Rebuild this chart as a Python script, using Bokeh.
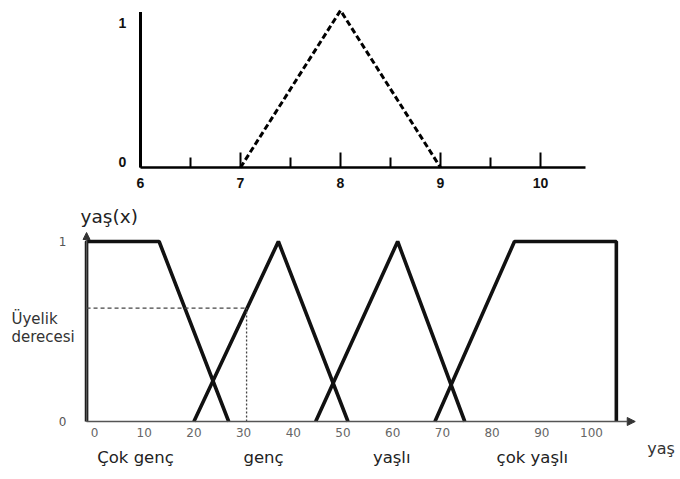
from bokeh.plotting import figure
from bokeh.models import Range1d, Arrow, NormalHead
from bokeh.core.properties import value
from bokeh.embed import file_html
from bokeh.resources import INLINE

# ---------------- data: top chart (triangular fuzzy number "about 8") ----------
tri_x = [7, 8, 9]
tri_y = [0, 1, 0]
top_xticks = [6, 7, 8, 9, 10]
top_xminor = [6.5, 7.5, 8.5, 9.5]
top_yticks = [0, 1]

# ---------------- data: bottom chart (age membership functions) ----------------
age_ticks = [0, 10, 20, 30, 40, 50, 60, 70, 80, 90, 100]
mu_ticks = [0, 1]
cok_genc_x = [-1.6, -1.6, 13, 27]
cok_genc_y = [0, 1, 1, 0]
genc_x = [20, 37, 51]
genc_y = [0, 1, 0]
yasli_x = [44.5, 61, 74.5]
yasli_y = [0, 1, 0]
cok_yasli_x = [68.5, 84.5, 105, 105]
cok_yasli_y = [0, 1, 1, 0]
sample_age = 30.6
sample_mu = 0.63
categories = ["Çok genç", "genç", "yaşlı", "çok yaşlı"]

# ---------------- layout constants (pixels / positions) ------------------------
W, H = 680, 479
# bottom chart scale: x=0 at canvas x 94, 4.97 px per year; mu=0 at canvas y 421, 180 px per unit
BX0, BKX = 94, 4.97
BY0, BKY = 421, 180
# top chart scale: x=6 at canvas x 140, 100 px per unit; 0 at canvas y 167, 157 px per unit
TX0, TKX = 140, 100
TY0, TKY = 167, 157

FONT = "DejaVu Sans"

p = figure(width=W, height=H,
           x_range=Range1d(-BX0 / BKX, (W - BX0) / BKX),
           y_range=Range1d(-(H - BY0) / BKY, BY0 / BKY),
           x_axis_type=None, y_axis_type=None,
           output_backend="svg", toolbar_location=None,
           min_border=0, min_border_left=0, min_border_right=0,
           min_border_top=0, min_border_bottom=0)
p.extra_x_ranges = {"top": Range1d(6 - TX0 / TKX, 6 + (W - TX0) / TKX)}
p.extra_y_ranges = {"top": Range1d(-(H - TY0) / TKY, TY0 / TKY)}
p.outline_line_color = None
p.grid.visible = False
p.background_fill_color = "white"
p.border_fill_color = "white"

T = dict(x_range_name="top", y_range_name="top")

# ================= top chart =================
top_axis_end = 10.45
top_axis_top = 0.99
p.line([top_xticks[0], top_xticks[0]], [0, top_axis_top], line_color="black",
       line_width=3, **T)
p.line([top_xticks[0], top_axis_end], [0, 0], line_color="black", line_width=2.5, **T)
p.segment(x0=top_xticks, y0=[0] * len(top_xticks), x1=top_xticks,
          y1=[15 / TKY] * len(top_xticks), line_color="black", line_width=2, **T)
p.segment(x0=top_xminor, y0=[0] * len(top_xminor), x1=top_xminor,
          y1=[10 / TKY] * len(top_xminor), line_color="black", line_width=2, **T)
p.line(tri_x, tri_y, line_color="black", line_width=3, line_dash="6 3", **T)

p.text(x=top_xticks, y=[-15 / TKY] * len(top_xticks), text=[str(t) for t in top_xticks],
       text_align="center", text_baseline="middle", text_font=value("Liberation Sans"),
       text_font_style="bold", text_font_size="14px", text_color="#111111", **T)
p.text(x=[top_xticks[0] - 18 / TKX] * 2, y=[6 / TKY, 1 - 12 / TKY],
       text=[str(t) for t in top_yticks],
       text_align="center", text_baseline="middle", text_font=value("Liberation Sans"),
       text_font_style="bold", text_font_size="14px", text_color="#111111", **T)

# ================= bottom chart =================
x_left = cok_genc_x[0]
x_arrow_end = 108.8
mu_arrow_end = 1.05
p.add_layout(Arrow(end=NormalHead(size=8, fill_color="#333333", line_color="#333333"),
                   x_start=x_left, y_start=0, x_end=x_arrow_end, y_end=0,
                   line_color="#555555", line_width=1.5))
p.add_layout(Arrow(end=NormalHead(size=7, fill_color="#333333", line_color="#333333"),
                   x_start=x_left, y_start=0, x_end=x_left, y_end=mu_arrow_end,
                   line_color="#555555", line_width=1.5))

LW = 3.6
p.line(cok_genc_x, cok_genc_y, line_color="#111111", line_width=LW)
p.line(genc_x, genc_y, line_color="#111111", line_width=LW)
p.line(yasli_x, yasli_y, line_color="#111111", line_width=LW)
p.line(cok_yasli_x, cok_yasli_y, line_color="#111111", line_width=LW)

p.line([x_left, sample_age], [sample_mu, sample_mu],
       line_color="#444444", line_width=1.3, line_dash="4 3")
p.line([sample_age, sample_age], [0, sample_mu],
       line_color="#444444", line_width=1.3, line_dash="2 2")

p.text(x=age_ticks, y=[-11 / BKY] * len(age_ticks), text=[str(t) for t in age_ticks],
       text_align="center", text_baseline="middle", text_font=value(FONT),
       text_font_size="12px", text_color="#666666")
p.text(x=[x_left - 24 / BKX] * 2, y=mu_ticks, text=[str(t) for t in mu_ticks],
       text_align="center", text_baseline="middle", text_font=value(FONT),
       text_font_size="12px", text_color="#555555")

category_x = [8.25, 34, 59.8, 88.1]
p.text(x=category_x, y=[-0.2] * len(categories), text=categories,
       text_align="center", text_baseline="middle", text_font=value(FONT),
       text_font_size="16.5px", text_color="#222222")

p.text(x=[-2.8], y=[1.14], text=["yaş(x)"], text_align="left", text_baseline="middle",
       text_font=value(FONT), text_font_size="18.5px", text_color="#222222")
p.text(x=[-16.7, -16.7], y=[0.572, 0.467], text=["Üyelik", "derecesi"],
       text_align="left", text_baseline="middle", text_font=value(FONT),
       text_font_size="15px", text_color="#333333")
p.text(x=[114], y=[-0.15], text=["yaş"], text_align="center", text_baseline="middle",
       text_font=value(FONT), text_font_size="16px", text_color="#333333")

open("out.html", "w").write(file_html(p, INLINE))
